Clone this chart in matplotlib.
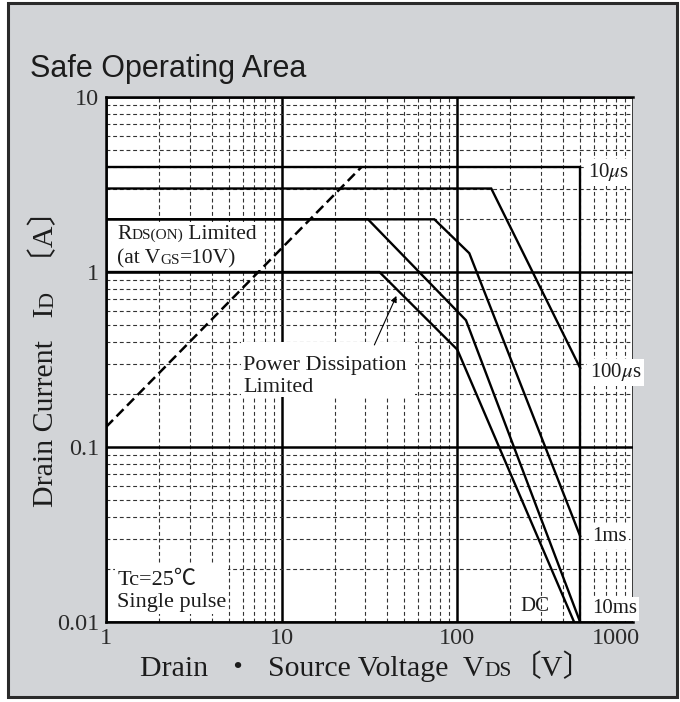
import matplotlib
matplotlib.use('Agg')
import matplotlib.pyplot as plt
from matplotlib.patches import Rectangle
from matplotlib.transforms import ScaledTranslation

plt.rcParams['font.family'] = ['Liberation Serif', 'Noto Sans CJK JP']
plt.rcParams['mathtext.fontset'] = 'stix'

# SOA limits: V_DS [V] vs I_D [A]
v_10us = [1, 500, 500]
i_10us = [4.0, 4.0, 0.01]
v_100us = [1, 156, 500]
i_100us = [3.0, 3.0, 0.283]
v_1ms = [1, 74, 117, 500]
i_1ms = [2.0, 2.0, 1.28, 0.031]
v_10ms = [1, 31, 112, 500]
i_10ms = [2.0, 2.0, 0.53, 0.01]
v_dc = [1, 36, 100, 462]
i_dc = [1.0, 1.0, 0.36, 0.01]
v_rds = [1, 28.6]
i_rds = [0.13, 4.0]

x_ticks = [1, 10, 100, 1000]
x_ticklabels = ['1', '10', '100', '1000']
y_ticks = [0.01, 0.1, 1, 10]
y_ticklabels = ['0.01', '0.1', '1', '10']

TXT = '#1c1c1c'
W, H = 680, 702

fig = plt.figure(figsize=(W / 100, H / 100), dpi=100, facecolor='white')
fig.add_artist(Rectangle((8 / W, 1 - 697 / H), 669 / W, 694 / H, transform=fig.transFigure,
                         facecolor='#d2d4d7', edgecolor='#2a2a2a', lw=2.2, zorder=0))

ax = fig.add_axes([106 / W, 80 / H, 527 / W, 525 / H])
ax.set_facecolor('white')
ax.set_xscale('log')
ax.set_yscale('log')
ax.set_xlim(1, 1000)
ax.set_ylim(0.01, 10)
ax.set_axisbelow(True)
ax.grid(which='major', color='k', lw=1.8)
ax.grid(which='minor', color='#333333', lw=0.8, ls=(0, (3.5, 2.5)))
ax.set_xticks(x_ticks)
ax.set_xticklabels(x_ticklabels)
ax.set_yticks(y_ticks)
ax.set_yticklabels(y_ticklabels)
ax.tick_params(which='both', length=0, labelsize=17.5, labelcolor='#2a2a2a')
ax.tick_params(axis='x', pad=4)
ax.tick_params(axis='y', pad=5)
for side in ['top', 'left', 'bottom']:
    ax.spines[side].set_linewidth(1.8)
ax.spines['right'].set_visible(False)

# last x label sits left of its gridline in the original
lab = ax.get_xticklabels()[-1]
lab.set_transform(lab.get_transform() + ScaledTranslation(-17 / 100, 0, fig.dpi_scale_trans))

for v, i in [(v_10us, i_10us), (v_100us, i_100us), (v_1ms, i_1ms), (v_10ms, i_10ms), (v_dc, i_dc)]:
    ax.plot(v, i, color='k', lw=1.7, zorder=3, solid_joinstyle='miter')
ax.plot(v_rds, i_rds, color='k', lw=1.8, ls=(0, (4, 2)), zorder=3)

box = dict(boxstyle='square,pad=0.12', fc='white', ec='none')
for s, x, y in [('10$\\mu$s', 0.915, 0.857), ('100$\\mu$s', 0.918, 0.476),
                ('1ms', 0.922, 0.162), ('10ms', 0.922, 0.025)]:
    ax.text(x, y, s, transform=ax.transAxes, fontsize=15, color=TXT, va='center',
            ha='left', bbox=box, zorder=5)
ax.text(0.786, 0.029, 'DC', transform=ax.transAxes, fontsize=15, color=TXT, va='center',
        ha='left', zorder=5)

renderer = fig.canvas.get_renderer()


def rich(x, y, pieces, rotation=0):
    # x, y: display pixels of the baseline start; pieces drawn one after another
    pos = 0.0
    for s, size in pieces:
        t = fig.text(0, 0, s, fontsize=size, color=TXT, ha='left', va='baseline',
                     rotation_mode='anchor', zorder=5)
        w = t.get_window_extent(renderer).width
        t.set_rotation(rotation)
        if rotation == 0:
            t.set_position(((x + pos) / W, y / H))
        else:
            t.set_position((x / W, (y + pos) / H))
        pos += w


def ax_px(fx, fy):
    return ax.transAxes.transform((fx, fy))


# white patches behind the in-plot notes
for x0, y0, w, h in [(0.011, 0.670, 0.285, 0.092), (0.256, 0.428, 0.33, 0.105),
                     (0.017, 0.015, 0.215, 0.094)]:
    ax.add_patch(Rectangle((x0, y0), w, h, transform=ax.transAxes, fc='white', ec='none', zorder=4))

rich(*ax_px(0.021, 0.730), [('R', 15.5), ('DS(ON)', 11), (' Limited', 15.5)])
rich(*ax_px(0.021, 0.682), [('(at V', 15.5), ('GS', 11), ('=10V)', 15.5)])

ax.text(0.26, 0.48, 'Power Dissipation', transform=ax.transAxes, fontsize=16, color=TXT,
        va='baseline', zorder=5)
ax.text(0.26, 0.438, 'Limited', transform=ax.transAxes, fontsize=16, color=TXT,
        va='baseline', zorder=5)
ax.annotate('', xy=(45, 0.73), xytext=(33.7, 0.383),
            arrowprops=dict(arrowstyle='-|>', color='k', lw=0.8, mutation_scale=9,
                            shrinkA=0, shrinkB=0), zorder=5)

ax.text(0.021, 0.0705, 'Tc=25℃', transform=ax.transAxes, fontsize=16, color=TXT,
        va='baseline', zorder=5)
ax.text(0.021, 0.0286, 'Single pulse', transform=ax.transAxes, fontsize=16, color=TXT,
        va='baseline', zorder=5)

# title and axis labels
fig.text(30 / W, 1 - 77 / H, 'Safe Operating Area', family='Liberation Sans', fontsize=22,
         color=TXT, va='baseline')
rich(140, H - 676, [('Drain  ・  Source Voltage  V', 21.5), ('DS', 15.5), ('〔V〕', 21.5)])
rich(53, H - 507, [('Drain Current   I', 21.5), ('D', 16), ('  〔A〕', 21.5)], rotation=90)

fig.savefig('out.png', dpi=100, facecolor=fig.get_facecolor())
